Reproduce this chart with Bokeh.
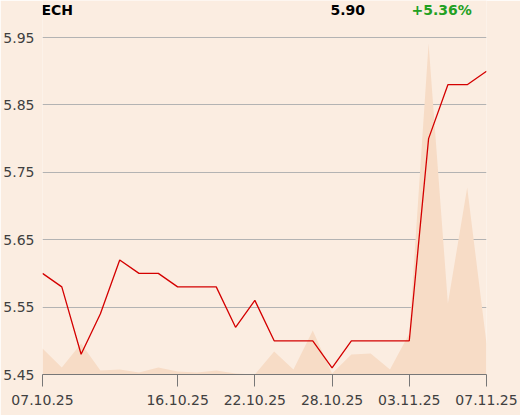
from bokeh.plotting import figure
from bokeh.models import Range1d, FixedTicker, Label, NumeralTickFormatter
from bokeh.embed import file_html
from bokeh.resources import INLINE

# Data
dates = ["07.10.25", "08.10.25", "09.10.25", "10.10.25", "13.10.25", "14.10.25",
         "15.10.25", "16.10.25", "17.10.25", "20.10.25", "21.10.25", "22.10.25",
         "23.10.25", "24.10.25", "27.10.25", "28.10.25", "29.10.25", "30.10.25",
         "31.10.25", "03.11.25", "04.11.25", "05.11.25", "06.11.25", "07.11.25"]
prices = [5.60, 5.58, 5.48, 5.54, 5.62, 5.60, 5.60, 5.58, 5.58, 5.58, 5.52, 5.56,
          5.50, 5.50, 5.50, 5.46, 5.50, 5.50, 5.50, 5.50, 5.80, 5.88, 5.88, 5.90]
volumes = [26, 7, 31, 4, 5, 2, 7, 3, 2, 4, 1, 0, 23, 5, 44, 1, 20, 21, 5, 41,
           331, 71, 187, 31]
tick_idx = [0, 7, 11, 15, 19, 23]
y_ticks = [5.45, 5.55, 5.65, 5.75, 5.85, 5.95]
ticker_name = "ECH"
last_price = "5.90"
change = "+5.36%"

x = list(range(len(prices)))
n = len(prices)

BG = "#FBEDE1"
FONT = "DejaVu Sans"
W, H = 520, 415
LEFT, RIGHT, TOP, BOTTOM = 41, 486, 0, 374
px_per_unit = 674.0

p = figure(width=W, height=H, output_backend="svg", toolbar_location=None,
           x_range=Range1d(0, n - 1),
           y_range=Range1d(5.45, 5.45 + (BOTTOM - TOP) / px_per_unit),
           min_border_left=LEFT, min_border_right=W - RIGHT, min_border_top=TOP,
           min_border_bottom=H - BOTTOM)
p.styles = {"position": "absolute", "left": "0px", "top": "0px"}
p.background_fill_color = BG
p.border_fill_color = BG
p.outline_line_color = None

p.extra_y_ranges = {"vol": Range1d(0, BOTTOM - TOP)}
p.varea(x=x, y1=[0] * n, y2=volumes, y_range_name="vol",
        fill_color="#F7DCC6", fill_alpha=1.0)
p.line(x=x, y=prices, line_color="#D40000", line_width=1.3)

# grid
p.xgrid.grid_line_color = None
p.ygrid.ticker = FixedTicker(ticks=y_ticks)
p.ygrid.grid_line_color = "#B3B3B3"
p.ygrid.grid_line_width = 1

# y axis
p.yaxis.ticker = FixedTicker(ticks=y_ticks)
p.yaxis.formatter = NumeralTickFormatter(format="0.00")
p.yaxis.axis_line_color = None
p.yaxis.major_tick_line_color = None
p.yaxis.major_tick_out = 0
p.yaxis.major_tick_in = 0
p.yaxis.minor_tick_line_color = None
p.yaxis.minor_tick_out = 0
p.yaxis.major_label_standoff = 8
p.yaxis.major_label_text_font = FONT
p.yaxis.major_label_text_font_size = "14px"
p.yaxis.major_label_text_color = "#404040"

# x axis
p.xaxis.ticker = FixedTicker(ticks=tick_idx)
p.xaxis.major_label_overrides = {i: dates[i] for i in tick_idx}
p.xaxis.axis_line_color = "#777777"
p.xaxis.major_tick_line_color = "#777777"
p.xaxis.major_tick_in = 0
p.xaxis.major_tick_out = 12
p.xaxis.minor_tick_line_color = None
p.xaxis.major_label_standoff = 8
p.xaxis.major_label_text_font = FONT
p.xaxis.major_label_text_font_size = "14px"
p.xaxis.major_label_text_color = "#404040"

# header texts (screen units are relative to the plot frame's bottom-left)
for txt, xpos, col in [(ticker_name, 40, "#000000"), (last_price, 329, "#000000"),
                       (change, 410, "#22A022")]:
    p.add_layout(Label(x=xpos - LEFT, y=BOTTOM - 9, x_units="screen", y_units="screen",
                       text=txt, text_font=FONT, text_font_size="14px",
                       text_font_style="bold", text_color=col,
                       text_baseline="middle", text_align="left"))

open("out.html", "w").write(file_html(p, INLINE))
